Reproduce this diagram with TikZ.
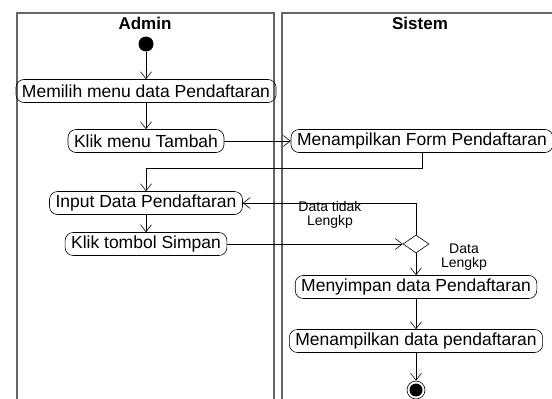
\documentclass[tikz,border=0pt]{standalone}
\usepackage{fontspec}
\setmainfont{Liberation Sans}
\usetikzlibrary{arrows.meta,shapes.geometric}
\begin{document}
\begin{tikzpicture}[
    x=1pt, y=-1pt,
    lane/.style={draw=gray!80!black, line width=1.1pt},
    head/.style={font=\fontsize{17}{19}\selectfont\bfseries},
    act/.style={draw, rounded corners=8pt, font=\fontsize{17.5}{19}\selectfont, inner xsep=6pt, minimum height=23pt, line width=0.6pt},
    guard/.style={align=center, font=\fontsize{14}{14}\selectfont, inner sep=0pt},
    dec/.style={draw, diamond, aspect=1.4, minimum width=26pt, minimum height=18pt, inner sep=0pt, line width=0.6pt},
    arrow/.style={-{Straight Barb[length=7pt,width=11pt]}, line width=0.6pt}
]
    \useasboundingbox (0,0) rectangle (552,399);
    % swimlanes
    \draw[lane] (17,399) -- (17,13) -- (274,13) -- (274,399);
    \draw[lane] (282,399) -- (282,13) -- (552,13);
    \node[head] (hadmin) at (145,23) {Admin};
    \node[head] (hsistem) at (420,23) {Sistem};

    \node[circle, fill=black, minimum size=15pt, inner sep=0pt] (start) at (146,44) {};
    \node[act] (a1) at (146,91) {Memilih menu data Pendaftaran};
    \node[act] (a2) at (146,141) {Klik menu Tambah};
    \node[act] (s1) at (422,141) {Menampilkan Form Pendaftaran};
    \node[act] (a3) at (146,203) {Input Data Pendaftaran};
    \node[act] (a4) at (146,244) {Klik tombol Simpan};
    \node[dec] (d1) at (416,244) {};
    \node[act] (s2) at (416,287) {Menyimpan data Pendaftaran};
    \node[act] (s3) at (416,341) {Menampilkan data pendaftaran};
    \node[circle, draw, line width=0.6pt, minimum size=18pt, inner sep=0pt] (stop) at (416,390) {};
    \fill (stop) circle (6.5pt);

    \node[guard] (g1) at (330,215) {Data tidak\\Lengkp};
    \node[guard] (g2) at (464,257) {Data\\Lengkp};

    \draw[arrow] (start) -- (a1);
    \draw[arrow] (a1) -- (a2);
    \draw[arrow] (a2) -- (s1);
    \draw[arrow] (s1.south) -- ++(0,15) -| (a3.north);
    \draw[arrow] (a3) -- (a4);
    \draw[arrow] (a4) -- (d1);
    \draw[arrow] (d1.north) |- (a3.east);
    \draw[arrow] (d1) -- (s2);
    \draw[arrow] (s2) -- (s3);
    \draw[arrow] (s3) -- (stop);
\end{tikzpicture}
\end{document}
